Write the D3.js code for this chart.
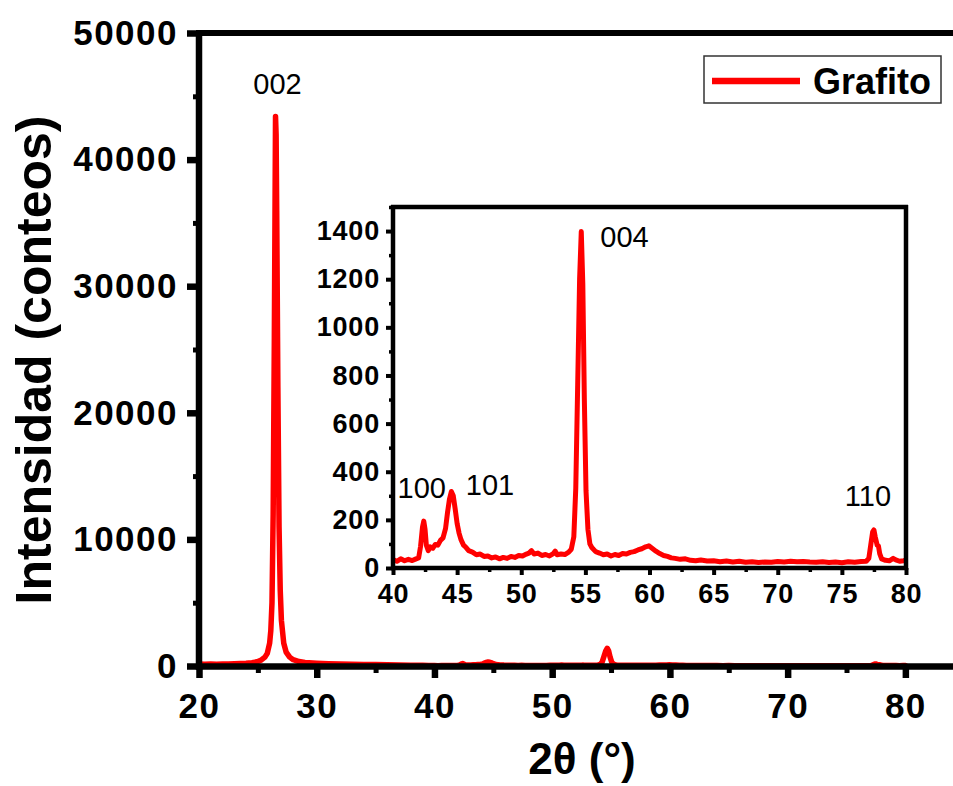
<!DOCTYPE html>
<html><head><meta charset="utf-8">
<script src="https://cdn.jsdelivr.net/npm/d3@7"></script>
<style>
body{margin:0;background:#fff}
svg{display:block}
text{font-family:Arial,"Liberation Sans",sans-serif}
</style>
</head><body>
<svg id="c" width="953" height="786"></svg>
<script>
// ---- data ----
const twoTheta = [
20.0,20.5,21.0,21.5,22.0,22.5,23.0,23.5,24.0,24.5,25.0,25.3,25.6,25.8,26.0,26.1,26.2,26.3,26.4,26.5,26.55,26.6,26.7,26.8,26.9,27.0,27.2,27.4,27.7,28.0,28.5,29.0,30.0,31.0,32.0,33.0,34.0,35.0,36.0,37.0,38.0,39.0,39.5,
40.0,40.3,40.6,40.9,41.2,41.5,41.8,42.0,42.15,42.3,42.4,42.5,42.6,42.75,42.9,43.1,43.3,43.5,43.7,43.9,44.1,44.25,44.4,44.55,44.7,44.85,45.0,45.15,45.3,45.5,45.7,45.9,46.2,46.5,46.8,47.1,47.4,47.7,48.0,48.3,48.6,48.9,49.2,49.5,49.8,50.1,50.4,50.6,50.8,51.0,51.3,51.6,51.9,52.2,52.5,52.65,52.8,53.1,53.4,53.7,53.9,54.1,54.25,54.4,54.55,54.68,54.8,54.92,55.05,55.2,55.35,55.5,55.8,56.1,56.4,56.7,57.0,57.3,57.6,57.9,58.2,58.5,58.8,59.1,59.4,59.7,59.95,60.2,60.5,60.8,61.1,61.4,61.7,62.0,62.4,62.8,63.2,63.6,64.0,64.5,65.0,65.5,66.0,66.5,67.0,67.5,68.0,68.5,69.0,69.5,70.0,70.5,71.0,71.5,72.0,72.5,73.0,73.5,74.0,74.5,75.0,75.5,76.0,76.5,76.9,77.1,77.25,77.4,77.5,77.6,77.75,77.85,77.95,78.1,78.4,78.7,79.0,79.2,79.5,79.8,80.0
];
const counts = [
150,140,150,145,160,165,175,190,210,260,350,480,700,1000,1800,2800,5000,12000,26000,43400,42000,36000,22000,11000,6000,3600,1800,1100,700,500,350,280,220,180,160,140,120,110,95,80,65,50,42,
35,28,38,30,36,31,38,42,90,170,195,160,95,72,88,82,98,95,115,125,165,230,285,318,300,245,185,145,118,95,85,72,66,55,58,48,50,42,46,38,44,40,48,44,52,50,58,62,72,58,62,52,56,50,60,70,55,58,56,66,78,130,330,760,1200,1398,1180,700,320,160,100,85,68,62,55,58,50,56,52,60,58,65,68,75,80,88,92,82,70,60,52,48,42,40,36,38,32,30,33,29,30,26,29,25,28,24,26,23,25,24,27,25,28,26,27,25,24,26,23,25,22,26,24,27,28,40,95,150,158,130,95,92,60,38,32,30,40,34,28,30,32
];
const seriesName = "Grafito";
const mainXMajor = [20,30,40,50,60,70,80];
const mainXMinor = [25,35,45,55,65,75,85];
const mainYMajor = [0,10000,20000,30000,40000,50000];
const mainYMinor = [5000,15000,25000,35000,45000];
const insetXMajor = [40,45,50,55,60,65,70,75,80];
const insetXMinor = [42.5,47.5,52.5,57.5,62.5,67.5,72.5,77.5];
const insetYMajor = [0,200,400,600,800,1000,1200,1400];
const insetYMinor = [100,300,500,700,900,1100,1300,1500];
const peakLabels = [
  {t:"002", x:26.5, y:43400, where:"main"},
  {t:"004", x:54.7, y:1398, where:"inset"},
  {t:"100", x:42.4, y:195, where:"inset"},
  {t:"101", x:44.6, y:318, where:"inset"},
  {t:"110", x:77.5, y:158, where:"inset"}
];

const data = twoTheta.map((d,i)=>({x:d,y:counts[i]}));
const svg = d3.select("#c");
const red = "#ff0000";
const FF = 'Arial,"Liberation Sans",sans-serif';

// ---- main plot ----
const x = d3.scaleLinear().domain([20,86]).range([199,976]);
const y = d3.scaleLinear().domain([0,50000]).range([666,33]);

function styleAxis(g, w, tw){
  g.select(".domain").attr("stroke","#000").attr("stroke-width",w);
  g.selectAll(".tick line").attr("stroke","#000").attr("stroke-width",tw);
}

// line
svg.append("path").datum(data)
  .attr("fill","none").attr("stroke",red).attr("stroke-width",5.5)
  .attr("stroke-linejoin","round").attr("stroke-linecap","round")
  .attr("d", d3.line().x(d=>x(d.x)).y(d=>y(d.y)));

// minor ticks
svg.append("g").attr("transform","translate(0,666)")
  .call(d3.axisBottom(x).tickValues(mainXMinor).tickSize(7).tickSizeOuter(0).tickFormat(""))
  .call(g=>{styleAxis(g,6.5,5); g.select(".domain").remove();});
svg.append("g").attr("transform","translate(199,0)")
  .call(d3.axisLeft(y).tickValues(mainYMinor).tickSize(6).tickSizeOuter(0).tickFormat(""))
  .call(g=>{styleAxis(g,6.5,5); g.select(".domain").remove();});

// x axis
svg.append("g").attr("transform","translate(0,666)")
  .call(d3.axisBottom(x).tickValues(mainXMajor).tickSize(12).tickPadding(15).tickSizeOuter(0).tickFormat(d3.format("d")))
  .call(g=>{styleAxis(g,6.5,6.5);
    g.selectAll("text").attr("fill","#000").attr("font-size",35).attr("font-weight","bold")
     .attr("letter-spacing",1.5).attr("font-family",FF);});
// y axis
svg.append("g").attr("transform","translate(199,0)")
  .call(d3.axisLeft(y).tickValues(mainYMajor).tickSize(12).tickPadding(9).tickSizeOuter(0).tickFormat(d3.format("d")))
  .call(g=>{styleAxis(g,6.5,6.5);
    g.select(".domain").attr("d","M0,670V33");
    g.selectAll("text").attr("fill","#000").attr("font-size",35).attr("font-weight","bold")
     .attr("letter-spacing",1.5).attr("font-family",FF);});
// top axis line
svg.append("g").attr("transform","translate(0,33)")
  .call(d3.axisTop(x).tickValues(mainXMajor.concat(mainXMinor)).tickSize(2).tickSizeOuter(0).tickFormat(""))
  .call(g=>{styleAxis(g,6,2); g.select(".domain").attr("d","M196,0H976");});

// axis titles
svg.append("text").attr("transform","translate(51,360) rotate(-90)")
  .attr("text-anchor","middle").attr("font-size",50).attr("font-weight","bold")
  .text("Intensidad (conteos)");
svg.append("text").attr("x",582).attr("y",774)
  .attr("text-anchor","middle").attr("font-size",44).attr("font-weight","bold")
  .text("2θ (°)");

// ---- inset ----
const xi = d3.scaleLinear().domain([40,80]).range([393,906]);
const yi = d3.scaleLinear().domain([0,1500]).range([568,207]);

svg.append("rect").attr("x",393).attr("y",207).attr("width",513).attr("height",361).attr("fill","#fff");
svg.append("clipPath").attr("id","ic").append("rect")
  .attr("x",393).attr("y",150).attr("width",513).attr("height",418);
svg.append("path").datum(data.filter(d=>d.x>=39.5))
  .attr("clip-path","url(#ic)")
  .attr("fill","none").attr("stroke",red).attr("stroke-width",5)
  .attr("stroke-linejoin","round").attr("stroke-linecap","round")
  .attr("d", d3.line().x(d=>xi(d.x)).y(d=>yi(d.y)));

svg.append("g").attr("transform","translate(0,568)")
  .call(d3.axisBottom(xi).tickValues(insetXMinor).tickSize(4).tickSizeOuter(0).tickFormat(""))
  .call(g=>{styleAxis(g,4.5,3.5); g.select(".domain").remove();});
svg.append("g").attr("transform","translate(393,0)")
  .call(d3.axisLeft(yi).tickValues(insetYMinor).tickSize(4).tickSizeOuter(0).tickFormat(""))
  .call(g=>{styleAxis(g,4.5,3.5); g.select(".domain").remove();});

svg.append("g").attr("transform","translate(0,568)")
  .call(d3.axisBottom(xi).tickValues(insetXMajor).tickSize(7).tickPadding(9).tickSizeOuter(0).tickFormat(d3.format("d")))
  .call(g=>{styleAxis(g,4.5,4);
    g.select(".domain").attr("d","M391,0H908");
    g.selectAll("text").attr("fill","#000").attr("font-size",27).attr("font-weight","bold")
     .attr("letter-spacing",0.8).attr("font-family",FF);});
svg.append("g").attr("transform","translate(393,0)")
  .call(d3.axisLeft(yi).tickValues(insetYMajor).tickSize(7).tickPadding(6).tickSizeOuter(0).tickFormat(d3.format("d")))
  .call(g=>{styleAxis(g,4.5,4);
    g.select(".domain").attr("d","M0,570V205");
    g.selectAll("text").attr("fill","#000").attr("font-size",27).attr("font-weight","bold")
     .attr("letter-spacing",0.8).attr("font-family",FF);});
// inset top & right
svg.append("g").attr("transform","translate(0,207)")
  .call(d3.axisTop(xi).tickValues(insetXMajor.concat(insetXMinor)).tickSize(2).tickSizeOuter(0).tickFormat(""))
  .call(g=>{styleAxis(g,4.5,2); g.select(".domain").attr("d","M391,0H908");});
svg.append("line").attr("x1",906).attr("x2",906).attr("y1",205).attr("y2",570)
  .attr("stroke","#000").attr("stroke-width",4.5);

// ---- peak labels ----
const labelOffsets = {"002":[2,-23],"004":[43,15],"100":[-2,-23],"101":[38,4],"110":[-6,-24]};
peakLabels.forEach(p=>{
  const px = p.where==="main" ? x(p.x) : xi(p.x);
  const py = p.where==="main" ? y(p.y) : yi(p.y);
  const o = labelOffsets[p.t];
  svg.append("text").attr("x",px+o[0]).attr("y",py+o[1])
    .attr("text-anchor","middle").attr("font-size",29).attr("fill","#000")
    .text(p.t);
});

// ---- legend ----
const lg = svg.append("g");
lg.append("rect").attr("x",704).attr("y",56).attr("width",237).attr("height",47)
  .attr("fill","#fff").attr("stroke","#333").attr("stroke-width",1.5);
lg.append("line").attr("x1",712).attr("x2",800).attr("y1",81).attr("y2",81)
  .attr("stroke",red).attr("stroke-width",6.5);
lg.append("text").attr("x",813).attr("y",94).attr("font-size",36).attr("font-weight","bold")
  .text(seriesName);
</script>
</body></html>
